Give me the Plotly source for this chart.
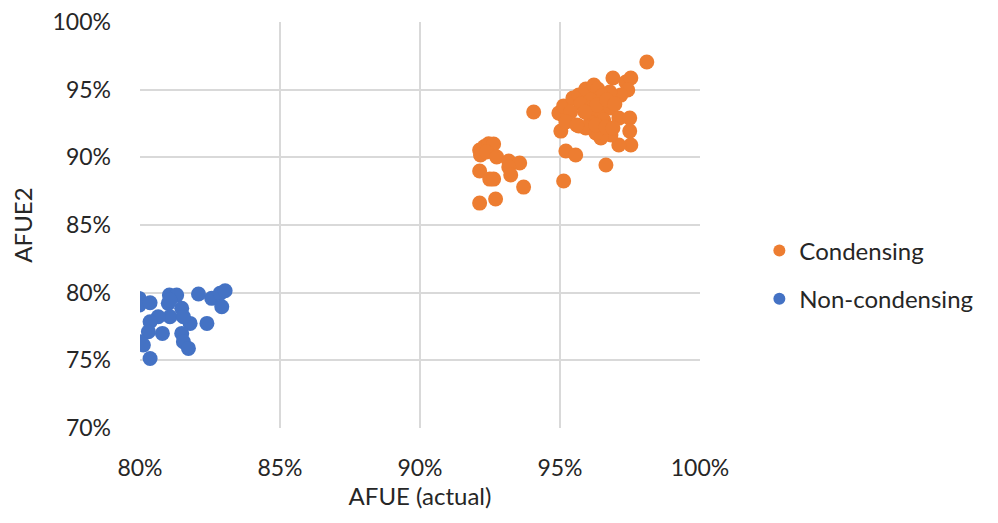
import plotly.graph_objects as go

# Condensing series (AFUE actual, AFUE2) in %
cond_x = [92.13, 92.3, 92.45, 92.63, 92.16, 92.38, 92.74, 93.17, 93.56, 93.17, 93.24, 92.13,
          92.49, 92.63, 93.70, 92.13, 92.70, 94.06,
          98.10, 95.13, 96.64, 95.21, 95.56, 95.03, 95.10, 94.96, 95.13, 95.46, 95.67, 95.92,
          96.21, 96.35, 96.89, 97.35, 97.53, 97.42, 97.17, 96.78, 96.49, 96.10, 95.74, 95.38,
          95.21, 95.67, 96.10, 96.46, 96.82, 97.10, 97.49, 97.49, 97.53, 97.10, 96.82, 96.46,
          96.28, 95.92, 95.60, 96.10, 96.31, 96.67, 96.96, 96.56, 96.28, 95.89, 96.64, 96.89]
cond_y = [90.54, 90.8, 91.0, 90.98, 90.17, 90.39, 90.02, 89.73, 89.58, 89.28, 88.69, 88.99,
          88.39, 88.39, 87.80, 86.62, 86.92, 93.35,
          97.04, 88.25, 89.43, 90.47, 90.17, 91.94, 93.13, 93.27, 93.80, 94.38, 94.60, 95.05,
          95.34, 95.05, 95.86, 95.57, 95.86, 94.97, 94.60, 94.83, 94.53, 94.24, 93.94, 93.35,
          92.61, 92.31, 92.76, 93.35, 93.64, 92.90, 92.90, 91.94, 90.91, 90.91, 91.65, 91.43,
          91.80, 92.17, 92.39, 93.64, 93.87, 94.24, 93.94, 92.76, 92.39, 93.35, 92.24, 92.17]

# Non-condensing series
nonc_x = [79.97, 79.97, 80.36, 81.05, 81.31, 82.09, 82.56, 82.86, 83.04, 82.92, 81.01, 81.49,
          81.07, 81.79, 81.55, 80.65, 80.36, 80.30, 82.39, 80.80, 81.49, 80.00, 80.12, 81.55,
          81.73, 80.36, 81.07]
nonc_y = [79.58, 79.08, 79.25, 79.82, 79.82, 79.90, 79.58, 79.95, 80.14, 78.96, 79.21, 78.84,
          78.22, 77.73, 78.22, 78.22, 77.85, 77.11, 77.73, 76.99, 76.99, 76.37, 76.13, 76.37,
          75.88, 75.14, 79.45]

tick_vals_x = [80, 85, 90, 95, 100]
tick_vals_y = [70, 75, 80, 85, 90, 95, 100]

FONT = "Lato, Open Sans, sans-serif"

fig = go.Figure()
fig.add_trace(go.Scatter(x=cond_x, y=cond_y, mode="markers", name="Condensing",
                         legendgroup="a",
                         marker=dict(color="#ED7D31", size=15, line=dict(width=0))))
fig.add_trace(go.Scatter(x=nonc_x, y=nonc_y, mode="markers", name="Non-condensing",
                         legendgroup="b",
                         marker=dict(color="#4472C4", size=15, line=dict(width=0))))

fig.update_layout(
    width=998, height=523,
    margin=dict(l=132, r=306, t=14, b=103, autoexpand=False),
    paper_bgcolor="white", plot_bgcolor="white",
    font=dict(family=FONT, size=23, color="#262626"),
    showlegend=True,
    legend=dict(x=1.106, y=0.377, xanchor="left", yanchor="middle",
                font=dict(size=24, color="#262626"), tracegroupgap=14,
                itemsizing="constant"),
    xaxis=dict(range=[80, 100], tickvals=tick_vals_x,
               ticktext=[f"{v}%" for v in tick_vals_x],
               showgrid=True, gridcolor="#d9d9d9", gridwidth=1.5,
               zeroline=False, showline=False, ticks="", automargin=False,
               ticklabelstandoff=24, ticklabeloverflow="allow",
               title=dict(text="AFUE (actual)", font=dict(size=24), standoff=0)),
    yaxis=dict(range=[70, 100], tickvals=tick_vals_y,
               ticktext=[f"{v}%" for v in tick_vals_y],
               showgrid=True, gridcolor="#d9d9d9", gridwidth=1.5,
               zeroline=False, showline=False, ticks="", automargin=False,
               ticklabelstandoff=28, ticklabeloverflow="allow",
               title=dict(text="AFUE2", font=dict(size=24), standoff=20)),
)

fig.write_html("out.html")
